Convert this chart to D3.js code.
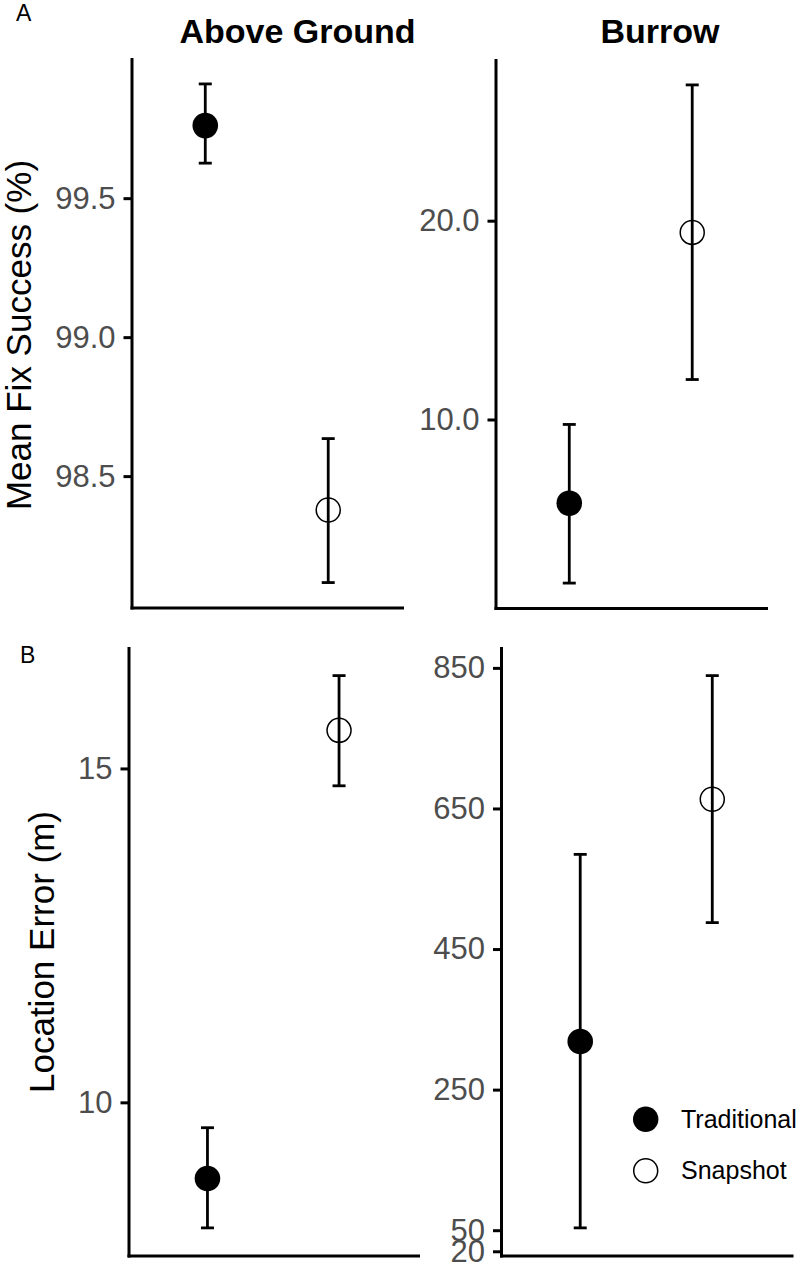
<!DOCTYPE html>
<html>
<head>
<meta charset="utf-8">
<script src="https://cdn.jsdelivr.net/npm/d3@7"></script>
<style>
  body { margin: 0; background: #fff; }
  text { font-family: "Liberation Sans", Arial, sans-serif; }
</style>
</head>
<body>
<svg id="chart" width="800" height="1269"></svg>
<script>
// groups (x categories)
const groups = ["Traditional", "Snapshot"];

// A: mean fix success (%)
const fixAboveMean = [99.761, 98.378];
const fixAboveLow = [99.626, 98.117];
const fixAboveHigh = [99.911, 98.635];
const fixBurrowMean = [5.79, 19.41];
const fixBurrowLow = [1.77, 12.01];
const fixBurrowHigh = [9.75, 26.83];

// B: location error (m)
const errAboveMean = [8.86, 15.57];
const errAboveLow = [8.12, 14.74];
const errAboveHigh = [9.62, 16.39];
const errBurrowMean = [318.5, 663];
const errBurrowLow = [53.3, 487.6];
const errBurrowHigh = [584.7, 839];

// tick labels
const fixAboveTicks = [98.5, 99.0, 99.5];
const fixBurrowTicks = [10, 20];
const errAboveTicks = [10, 15];
const errBurrowTicks = [20, 50, 250, 450, 650, 850];

const svg = d3.select("#chart");
svg.append("rect").attr("width", 800).attr("height", 1269).attr("fill", "#fff");

function drawPanel(box, mean, low, high, ticks, fmt) {
  const rows = groups.map((g, i) => ({ g: g, mean: mean[i], low: low[i], high: high[i] }));
  const lo = d3.min(low), hi = d3.max(high);
  const pad = (hi - lo) * 0.05;

  const x = d3.scalePoint().domain(groups).range([box.left, box.right]).padding(0.6);
  const y = d3.scaleLinear().domain([lo - pad, hi + pad]).range([box.bottom, box.top]);

  // y axis
  const ya = svg.append("g")
    .attr("transform", "translate(" + box.left + ",0)")
    .call(d3.axisLeft(y).tickValues(ticks).tickFormat(fmt).tickSize(8).tickPadding(8).tickSizeOuter(0));
  ya.select(".domain").attr("stroke", "#000").attr("stroke-width", 3).attr("stroke-linecap", "square");
  ya.selectAll(".tick line").attr("stroke", "#000").attr("stroke-width", 3);
  ya.selectAll(".tick text").attr("fill", "#4d4d4d").style("font-size", "31px");

  // x axis (line only)
  const xa = svg.append("g")
    .attr("transform", "translate(0," + box.bottom + ")")
    .call(d3.axisBottom(x).tickValues([]).tickSizeOuter(0));
  xa.select(".domain").attr("stroke", "#000").attr("stroke-width", 3).attr("stroke-linecap", "square");

  const g = svg.append("g");
  // error bars
  g.selectAll("line.bar").data(rows).join("line")
    .attr("x1", d => x(d.g)).attr("x2", d => x(d.g))
    .attr("y1", d => y(d.low)).attr("y2", d => y(d.high))
    .attr("stroke", "#000").attr("stroke-width", 2.8);
  ["low", "high"].forEach(k => {
    g.selectAll("line.cap-" + k).data(rows).join("line")
      .attr("x1", d => x(d.g) - 6.5).attr("x2", d => x(d.g) + 6.5)
      .attr("y1", d => y(d[k])).attr("y2", d => y(d[k]))
      .attr("stroke", "#000").attr("stroke-width", 2.8);
  });
  // points
  g.selectAll("circle").data(rows).join("circle")
    .attr("cx", d => x(d.g)).attr("cy", d => y(d.mean))
    .attr("r", d => d.g === "Traditional" ? 12.8 : 12)
    .attr("fill", d => d.g === "Traditional" ? "#000" : "none")
    .attr("stroke", "#000")
    .attr("stroke-width", d => d.g === "Traditional" ? 0 : 1.5);
}

const f1 = d3.format(".1f");
const f0 = d3.format("d");

drawPanel({ left: 131.5, right: 402, top: 59, bottom: 607.5 }, fixAboveMean, fixAboveLow, fixAboveHigh, fixAboveTicks, f1);
drawPanel({ left: 495.5, right: 766, top: 60, bottom: 608 }, fixBurrowMean, fixBurrowLow, fixBurrowHigh, fixBurrowTicks, f1);
drawPanel({ left: 128.5, right: 418, top: 648, bottom: 1255.5 }, errAboveMean, errAboveLow, errAboveHigh, errAboveTicks, f0);
drawPanel({ left: 501, right: 791.5, top: 648, bottom: 1255.5 }, errBurrowMean, errBurrowLow, errBurrowHigh, errBurrowTicks, f0);

// facet titles
svg.append("text").attr("x", 297.5).attr("y", 43).attr("text-anchor", "middle")
  .style("font-size", "34px").style("font-weight", "bold").text("Above Ground");
svg.append("text").attr("x", 660).attr("y", 43).attr("text-anchor", "middle")
  .style("font-size", "34px").style("font-weight", "bold").text("Burrow");

// panel letters
svg.append("text").attr("x", 16).attr("y", 21).style("font-size", "23px").text("A");
svg.append("text").attr("x", 20).attr("y", 663).style("font-size", "23px").text("B");

// y axis titles
svg.append("text").attr("transform", "translate(31,335) rotate(-90)").attr("text-anchor", "middle")
  .style("font-size", "35px").text("Mean Fix Success (%)");
svg.append("text").attr("transform", "translate(53.5,952) rotate(-90)").attr("text-anchor", "middle")
  .style("font-size", "35px").text("Location Error (m)");

// legend
const legendY = d3.scalePoint().domain(groups).range([1119.3, 1170.7]);
const lg = svg.append("g");
lg.selectAll("circle").data(groups).join("circle")
  .attr("cx", 645.7).attr("cy", d => legendY(d))
  .attr("r", d => d === "Traditional" ? 12.7 : 12)
  .attr("fill", d => d === "Traditional" ? "#000" : "#fff")
  .attr("stroke", "#000")
  .attr("stroke-width", d => d === "Traditional" ? 0 : 1.5);
lg.selectAll("text").data(groups).join("text")
  .attr("x", 681).attr("y", d => legendY(d)).attr("dy", "0.35em")
  .style("font-size", "25px").text(d => d);
</script>
</body>
</html>
